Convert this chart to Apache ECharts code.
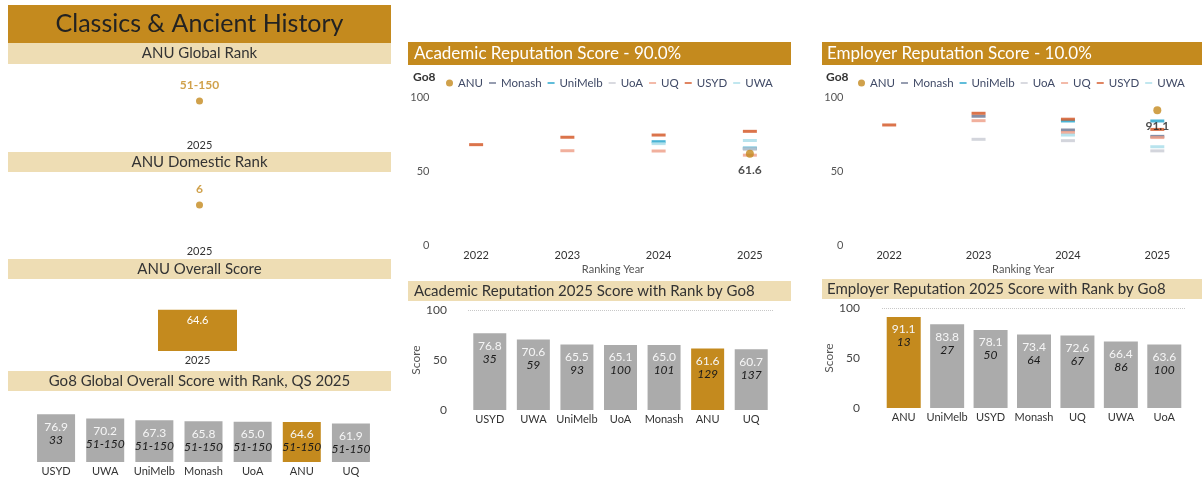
<!DOCTYPE html>
<html>
<head>
<meta charset="utf-8">
<title>Classics & Ancient History</title>
<script src="https://cdn.jsdelivr.net/npm/echarts@6/dist/echarts.min.js"></script>
<style>
  html, body { margin: 0; padding: 0; background: #fff; }
  #main { width: 1202px; height: 480px; }
</style>
</head>
<body>
<div id="main"></div>
<script>
// ---- data ----
const rankYear = ['2025'];
const globalRank = ['51-150'];
const domesticRank = ['6'];
const overallScore = [64.6];

const go8Names = ['USYD', 'UWA', 'UniMelb', 'Monash', 'UoA', 'ANU', 'UQ'];
const go8Scores = [76.9, 70.2, 67.3, 65.8, 65.0, 64.6, 61.9];
const go8Ranks = ['33', '51-150', '51-150', '51-150', '51-150', '51-150', '51-150'];

const years = ['2022', '2023', '2024', '2025'];
const unis = ['ANU', 'Monash', 'UniMelb', 'UoA', 'UQ', 'USYD', 'UWA'];

// academic reputation by year (null = no score)
const acadANU = [null, null, null, 61.6];
const acadMonash = [null, null, null, 65.0];
const acadUniMelb = [null, null, 69.8, 65.5];
const acadUoA = [null, null, null, 65.1];
const acadUQ = [null, 63.7, 63.5, 60.7];
const acadUSYD = [67.8, 72.8, 74.3, 76.8];
const acadUWA = [null, null, 68.5, 70.6];

// employer reputation by year
const empANU = [null, null, null, 91.1];
const empMonash = [null, 87.0, 77.7, 73.4];
const empUniMelb = [null, null, 83.8, 83.8];
const empUoA = [null, 71.4, 70.5, 63.6];
const empUQ = [null, 84.0, 76.0, 72.6];
const empUSYD = [81.1, 89.0, 85.0, 78.1];
const empUWA = [null, null, 74.3, 66.4];

const acadNames = ['USYD', 'UWA', 'UniMelb', 'UoA', 'Monash', 'ANU', 'UQ'];
const acadScores = [76.8, 70.6, 65.5, 65.1, 65.0, 61.6, 60.7];
const acadRanks = ['35', '59', '93', '100', '101', '129', '137'];

const empNames = ['ANU', 'UniMelb', 'USYD', 'Monash', 'UQ', 'UWA', 'UoA'];
const empScores = [91.1, 83.8, 78.1, 73.4, 72.6, 66.4, 63.6];
const empRanks = ['13', '27', '50', '64', '67', '86', '100'];

// ---- styles ----
const FONT = 'Lato';
const GOLD = '#C48A1E';
const BEIGE = '#EEDDB4';
const GREY = '#ABABAB';
const uniColors = ['#C48A1E', '#69738F', '#1BA1CB', '#C8CAD3', '#EE9C85', '#D2511E', '#A6DCE9'];
const acadSeries = [acadANU, acadMonash, acadUniMelb, acadUoA, acadUQ, acadUSYD, acadUWA];
const empSeries = [empANU, empMonash, empUniMelb, empUoA, empUQ, empUSYD, empUWA];

var myChart = echarts.init(document.getElementById('main'));

function band(x, y, w, h, fill, text, opts) {
  opts = opts || {};
  return [
    { type: 'rect', shape: { x: x, y: y, width: w, height: h }, style: { fill: fill }, z: 0 },
    {
      type: 'text', z: 1,
      x: opts.left ? x + opts.left : x + w / 2, y: y + h / 2,
      style: {
        text: text, fill: opts.color || '#333', fontFamily: FONT,
        fontSize: opts.size || 15, align: opts.left ? 'left' : 'center', verticalAlign: 'middle'
      }
    }
  ];
}

var graphics = [].concat(
  band(8, 5, 383, 38, GOLD, 'Classics & Ancient History', { size: 25, color: '#222' }),
  band(8, 43, 383, 21, BEIGE, 'ANU Global Rank'),
  band(8, 152, 383, 20, BEIGE, 'ANU Domestic Rank'),
  band(8, 259, 383, 20, BEIGE, 'ANU Overall Score'),
  band(8, 371, 383, 20, BEIGE, 'Go8 Global Overall Score with Rank, QS 2025', { size: 15 }),
  band(408, 42, 383, 23, GOLD, 'Academic Reputation Score - 90.0%', { color: '#fff', size: 17, left: 6 }),
  band(822, 42, 380, 23, GOLD, 'Employer Reputation Score - 10.0%', { color: '#fff', size: 17, left: 5 }),
  band(408, 281, 383, 20, BEIGE, 'Academic Reputation 2025 Score with Rank by Go8', { size: 15, left: 6 }),
  band(822, 279, 380, 20, BEIGE, 'Employer Reputation 2025 Score with Rank by Go8', { size: 15, left: 5 }),
  [
    { type: 'text', x: 413, y: 77, style: { text: 'Go8', fontWeight: 'bold', fontSize: 12, fontFamily: FONT, fill: '#333', verticalAlign: 'middle' } },
    { type: 'text', x: 826, y: 77, style: { text: 'Go8', fontWeight: 'bold', fontSize: 12, fontFamily: FONT, fill: '#333', verticalAlign: 'middle' } }
  ]
);

function catX(gridIndex, data, margin) {
  return {
    type: 'category', gridIndex: gridIndex, data: data,
    axisLine: { show: false }, axisTick: { show: false },
    axisLabel: { interval: 0, color: '#333', fontSize: 11, fontFamily: FONT, margin: margin }
  };
}

function barLabel(ranks) {
  return {
    show: true, position: 'insideTop', distance: 6,
    formatter: function (p) {
      return '{v|' + p.value.toFixed(1) + '}\n{r|' + ranks[p.dataIndex] + '}';
    },
    rich: {
      v: { color: '#f5f5f5', fontSize: 12, lineHeight: 13, fontFamily: FONT },
      r: { color: '#1a1a1a', fontSize: 12, lineHeight: 13, fontStyle: 'italic', fontFamily: FONT }
    }
  };
}

function goldIfAnu(p) { return p.name === 'ANU' ? GOLD : GREY; }

var legendIcon = 'path://M0,0H12V3H0Z';
function legendData() {
  return unis.map(function (u) {
    return { name: u, icon: u === 'ANU' ? 'circle' : legendIcon };
  });
}
function legendAt(x) {
  return {
    left: x, top: 72, width: 420, itemWidth: 7, itemHeight: 8, itemGap: 6, data: legendData(),
    textStyle: { color: '#404a66', fontSize: 11.5, fontFamily: FONT }
  };
}

var option = {
  animation: false,
  backgroundColor: '#fff',
  textStyle: { fontFamily: FONT },
  graphic: graphics,
  legend: [legendAt(441), legendAt(853)],
  grid: [
    { left: 8, right: 811, top: 68, height: 66 },      // 0 global rank
    { left: 8, right: 811, top: 172, height: 66 },     // 1 domestic rank
    { left: 158, right: 965, top: 287, height: 64 },   // 2 overall score
    { left: 31.5, right: 826.5, top: 400, height: 62 },// 3 go8 overall
    { left: 430.5, right: 406.5, top: 97, height: 148 },// 4 academic trend
    { left: 844.5, right: -6.5, top: 97, height: 148 },// 5 employer trend
    { left: 468, right: 429, top: 310, height: 100 },  // 6 academic bars
    { left: 882, right: 16, top: 308, height: 100 }    // 7 employer bars
  ],
  xAxis: [
    catX(0, rankYear, 6),
    catX(1, rankYear, 8),
    catX(2, rankYear, 4),
    catX(3, go8Names, 4),
    Object.assign(catX(4, years, 5), {
      name: 'Ranking Year', nameLocation: 'middle', nameGap: 19,
      nameTextStyle: { color: '#555', fontSize: 11, fontFamily: FONT }
    }),
    Object.assign(catX(5, years, 5), {
      name: 'Ranking Year', nameLocation: 'middle', nameGap: 19,
      nameTextStyle: { color: '#555', fontSize: 11, fontFamily: FONT }
    }),
    catX(6, acadNames, 4),
    catX(7, empNames, 4)
  ],
  yAxis: [
    { type: 'category', gridIndex: 0, data: globalRank, show: false },
    { type: 'category', gridIndex: 1, data: domesticRank, show: false },
    { type: 'value', gridIndex: 2, min: 0, max: 100, show: false },
    { type: 'value', gridIndex: 3, min: 0, max: 100, show: false },
    { type: 'value', gridIndex: 4, min: 0, max: 100, interval: 50,
      axisLine: { show: false }, axisTick: { show: false }, splitLine: { show: false },
      axisLabel: { color: '#555', fontSize: 11, fontFamily: FONT, margin: 1 } },
    { type: 'value', gridIndex: 5, min: 0, max: 100, interval: 50,
      axisLine: { show: false }, axisTick: { show: false }, splitLine: { show: false },
      axisLabel: { color: '#555', fontSize: 11, fontFamily: FONT, margin: 1 } },
    { type: 'value', gridIndex: 6, min: 0, max: 100, interval: 50,
      name: 'Score', nameLocation: 'middle', nameGap: 44,
      nameTextStyle: { color: '#555', fontSize: 12, fontFamily: FONT },
      axisLine: { show: false }, axisTick: { show: false },
      splitLine: { show: true, lineStyle: { type: 'dotted', color: ['transparent', 'transparent', '#c8c8c8'] } },
      axisLabel: { color: '#444', fontSize: 12, fontFamily: FONT, margin: 21 } },
    { type: 'value', gridIndex: 7, min: 0, max: 100, interval: 50,
      name: 'Score', nameLocation: 'middle', nameGap: 45,
      nameTextStyle: { color: '#555', fontSize: 12, fontFamily: FONT },
      axisLine: { show: false }, axisTick: { show: false },
      splitLine: { show: true, lineStyle: { type: 'dotted', color: ['transparent', 'transparent', '#c8c8c8'] } },
      axisLabel: { color: '#444', fontSize: 12, fontFamily: FONT, margin: 22 } }
  ],
  series: []
};

// ANU global / domestic rank dots
option.series.push({
  name: 'Global Rank', type: 'scatter', xAxisIndex: 0, yAxisIndex: 0,
  symbolSize: 7, itemStyle: { color: GOLD },
  data: rankYear.map(function (y, i) { return [y, globalRank[i]]; }),
  label: { show: true, position: 'top', distance: 6, color: GOLD, fontSize: 12, fontWeight: 'bold', fontFamily: FONT,
    formatter: function (p) { return p.value[1]; } }
});
option.series.push({
  name: 'Domestic Rank', type: 'scatter', xAxisIndex: 1, yAxisIndex: 1,
  symbolSize: 7, itemStyle: { color: GOLD },
  data: rankYear.map(function (y, i) { return [y, domesticRank[i]]; }),
  label: { show: true, position: 'top', distance: 6, color: GOLD, fontSize: 12, fontWeight: 'bold', fontFamily: FONT,
    formatter: function (p) { return p.value[1]; } }
});

// ANU overall score
option.series.push({
  name: 'Overall Score', type: 'bar', xAxisIndex: 2, yAxisIndex: 2,
  barWidth: '100%', itemStyle: { color: GOLD },
  data: overallScore,
  label: { show: true, position: 'insideTop', distance: 5, color: '#fff', fontSize: 11, fontFamily: FONT,
    formatter: function (p) { return p.value.toFixed(1); } }
});

// Go8 overall
option.series.push({
  name: 'Go8 Overall', type: 'bar', xAxisIndex: 3, yAxisIndex: 3,
  barWidth: 38, itemStyle: { color: goldIfAnu },
  data: go8Scores, label: barLabel(go8Ranks)
});

// reputation trends
function trendSeries(list, xi) {
  list.forEach(function (vals, i) {
    var isAnu = unis[i] === 'ANU';
    option.series.push({
      name: unis[i], type: 'scatter', xAxisIndex: xi, yAxisIndex: xi,
      symbol: isAnu ? 'circle' : 'rect',
      symbolSize: isAnu ? 8 : [14, 3],
      symbolKeepAspect: true,
      itemStyle: { color: uniColors[i] },
      z: isAnu ? 3 : 2,
      data: vals,
      label: isAnu ? {
        show: true, position: 'bottom', distance: 6, color: '#222', fontSize: 12, fontWeight: 'bold', fontFamily: FONT,
        formatter: function (p) { return p.value.toFixed(1); }
      } : { show: false }
    });
  });
}
trendSeries(acadSeries, 4);
trendSeries(empSeries, 5);

// 2025 reputation bars
option.series.push({
  name: 'Academic 2025', type: 'bar', xAxisIndex: 6, yAxisIndex: 6,
  barWidth: 33, itemStyle: { color: goldIfAnu },
  data: acadScores, label: barLabel(acadRanks)
});
option.series.push({
  name: 'Employer 2025', type: 'bar', xAxisIndex: 7, yAxisIndex: 7,
  barWidth: 34, itemStyle: { color: goldIfAnu },
  data: empScores, label: barLabel(empRanks)
});

myChart.setOption(option);
window.onresize = function () { myChart.resize(); };
</script>
</body>
</html>
